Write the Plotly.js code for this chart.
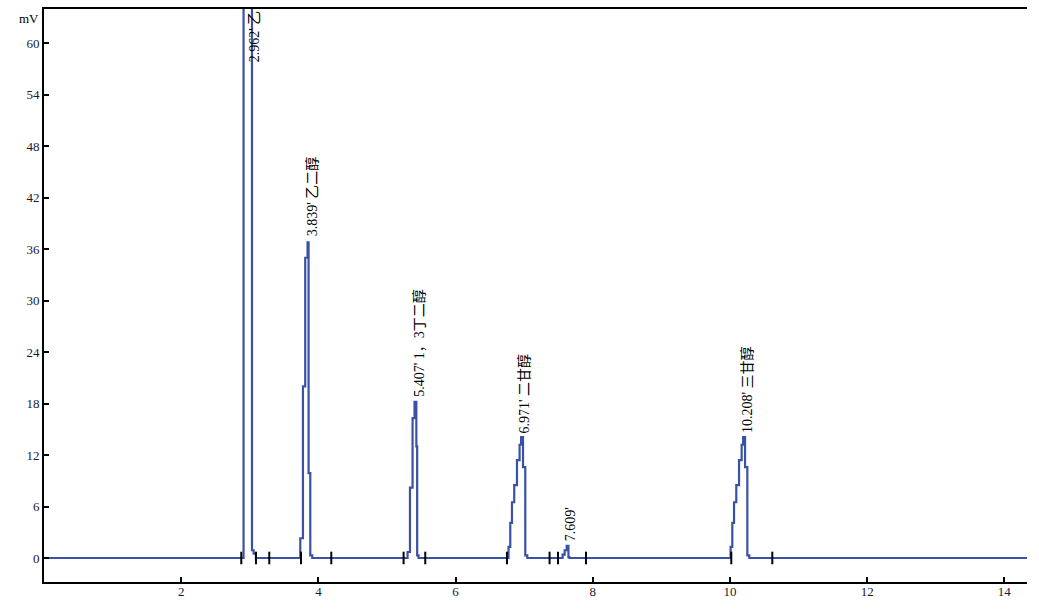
<!DOCTYPE html>
<html>
<head>
<meta charset="utf-8">
<script src="https://cdn.plot.ly/plotly-3.0.1.min.js"></script>
<style>html,body{margin:0;padding:0;background:#fff;}#chart{width:1039px;height:612px;}</style>
</head>
<body>
<div id="chart"></div>
<script>
// Retention time (min) at each detector step and signal (mV) held after that step
const timeMin = [0, 2.909, 2.94, 2.97, 3.032, 3.056, 3.09,
  3.736, 3.775, 3.808, 3.842, 3.857, 3.882, 3.911,
  5.300, 5.335, 5.373, 5.402, 5.428, 5.440, 5.460,
  6.772, 6.797, 6.822, 6.855, 6.895, 6.933, 6.955, 6.983, 7.016, 7.045,
  7.56, 7.59, 7.62, 7.645, 7.66,
  10.009, 10.034, 10.059, 10.092, 10.132, 10.170, 10.192, 10.220, 10.253, 10.282,
  14.33];
const signalMV = [0, 220, 300, 260, 0.9, 0.5, 0,
  2.3, 20, 35, 36.8, 9.9, 0.3, 0,
  0.7, 8.2, 16.3, 18.2, 13.0, 0.3, 0,
  1.3, 4.1, 6.5, 8.5, 11.4, 13.2, 14.1, 10.6, 0.3, 0,
  0.4, 0.9, 1.4, 0.1, 0,
  1.3, 4.1, 6.5, 8.5, 11.4, 13.2, 14.1, 10.6, 0.3, 0,
  0];

// Integration start/end markers on the baseline
const markerTimes = [2.876, 3.090, 3.284, 3.746, 4.188, 5.242, 5.558, 6.749, 7.370, 7.493, 7.901, 10.019, 10.617];

// Peak labels
const peakLabels = ["2.962' 乙", "3.839' 乙二醇", "5.407' 1，3丁二醇", "6.971' 二甘醇", "7.609'", "10.208' 三甘醇"];
const labelX = [3.07, 3.911, 5.47, 7.0, 7.68, 10.25];
const labelY = [57.5, 37.3, 18.6, 14.3, 1.7, 14.3];

const xTicks = [2, 4, 6, 8, 10, 12, 14];
const yTicks = [0, 6, 12, 18, 24, 30, 36, 42, 48, 54, 60];

const serif = "Liberation Serif, Noto Sans CJK SC, serif";

const traces = [
  {
    x: timeMin, y: signalMV, type: 'scatter', mode: 'lines',
    line: {color: '#3a52a6', width: 2.2, shape: 'hv'},
    hoverinfo: 'skip', showlegend: false
  },
  {
    x: markerTimes, y: markerTimes.map(() => 0), type: 'scatter', mode: 'markers',
    marker: {symbol: 'line-ns', size: 9, line: {color: '#000', width: 2}},
    hoverinfo: 'skip', showlegend: false, cliponaxis: false
  }
];

const annotations = peakLabels.map((t, i) => ({
  x: labelX[i], y: labelY[i], xref: 'x', yref: 'y',
  text: t, showarrow: false, textangle: -90,
  xanchor: 'center', yanchor: 'bottom',
  font: {family: serif, size: 14, color: '#000'}
}));
annotations.push({
  x: 0, y: 62.9, xref: 'paper', yref: 'y', text: 'mV', showarrow: false,
  xanchor: 'right', yanchor: 'middle', xshift: -3,
  font: {family: serif, size: 13, color: '#000'}
});

const layout = {
  width: 1039, height: 612,
  margin: {l: 44, r: 12, t: 9, b: 30},
  paper_bgcolor: '#fff', plot_bgcolor: '#fff',
  showlegend: false,
  xaxis: {
    range: [0, 14.33], tickvals: xTicks, ticktext: xTicks.map(String),
    ticks: 'inside', ticklen: 5, tickwidth: 2, tickcolor: '#000',
    showline: true, linecolor: '#000', linewidth: 2, mirror: true,
    showgrid: false, zeroline: false, ticklabelstandoff: -4,
    tickfont: {family: serif, size: 13, color: '#1a1a2e'}
  },
  yaxis: {
    range: [-2.8, 64], tickvals: yTicks, ticktext: yTicks.map(String),
    ticks: 'inside', ticklen: 5, tickwidth: 2, tickcolor: '#000',
    showline: true, linecolor: '#000', linewidth: 2,
    showgrid: false, zeroline: false,
    tickfont: {family: serif, size: 13, color: '#1a1a2e'}
  },
  annotations: annotations
};

Plotly.newPlot('chart', traces, layout, {displayModeBar: false, staticPlot: true});
</script>
</body>
</html>
